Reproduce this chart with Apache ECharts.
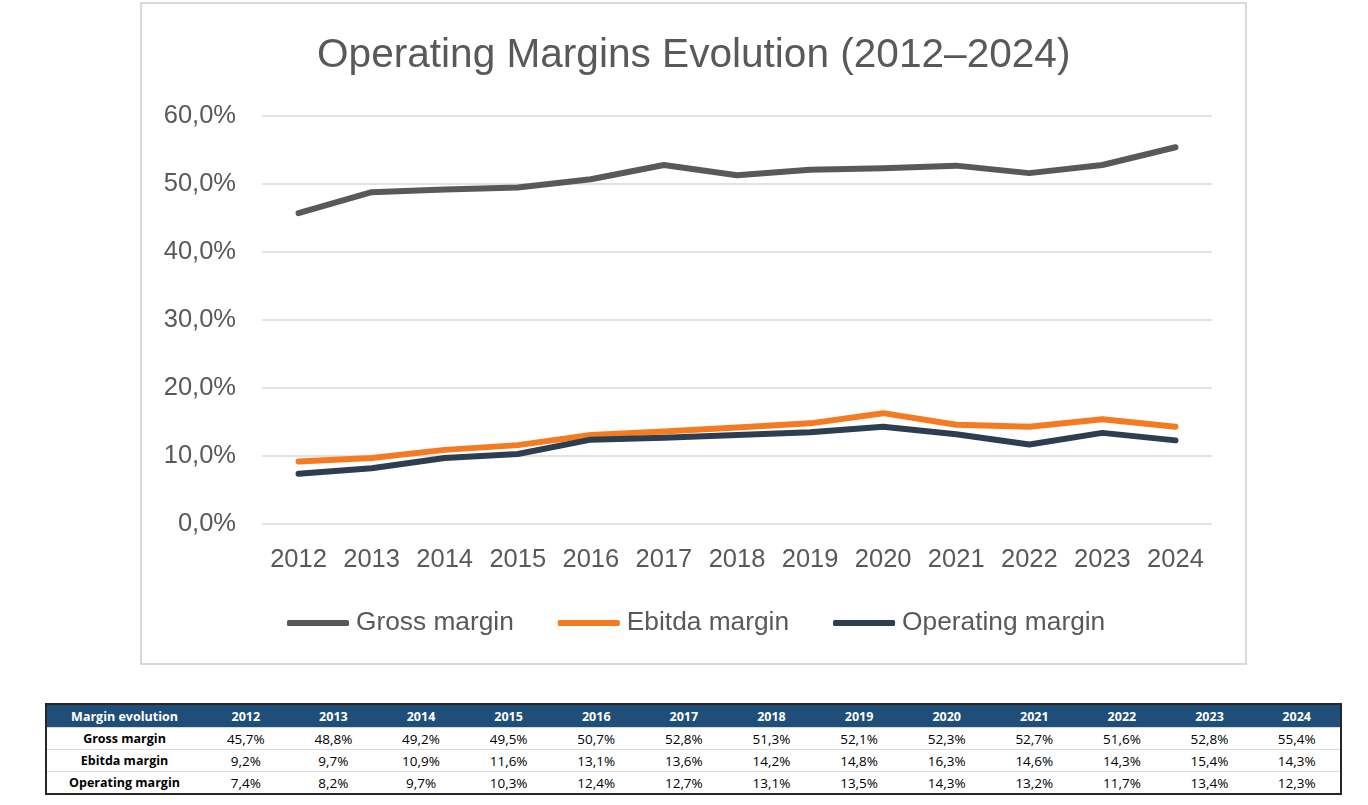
<!DOCTYPE html>
<html>
<head>
<meta charset="utf-8">
<script src="https://cdn.jsdelivr.net/npm/echarts@6/dist/echarts.min.js"></script>
<style>
  html, body { margin: 0; padding: 0; background: #fff; width: 1368px; height: 805px; overflow: hidden; }
  #chart { position: absolute; left: 0; top: 0; width: 1368px; height: 700px; }
  #tbl { position: absolute; left: 45px; top: 703px; width: 1297px; border-collapse: collapse; border: 2px solid #262626;
         font-family: "Open Sans", "Liberation Sans", sans-serif; font-size: 13.5px; color: #000; table-layout: fixed; }
  #tbl th { background: #1F4E79; color: #fff; font-weight: bold; font-size: 12.5px; height: 22px; padding: 0; text-align: center; }
  #tbl td { height: 21px; padding: 0; text-align: center; border-top: 1px solid #d9d9d9; }
  #tbl td.lab { font-weight: bold; font-size: 12.5px; }
</style>
</head>
<body>
<div id="chart"></div>
<table id="tbl"></table>
<script>
const categories = ['2012','2013','2014','2015','2016','2017','2018','2019','2020','2021','2022','2023','2024'];
const grossMargin = [45.7, 48.8, 49.2, 49.5, 50.7, 52.8, 51.3, 52.1, 52.3, 52.7, 51.6, 52.8, 55.4];
const ebitdaMargin = [9.2, 9.7, 10.9, 11.6, 13.1, 13.6, 14.2, 14.8, 16.3, 14.6, 14.3, 15.4, 14.3];
const operatingMargin = [7.4, 8.2, 9.7, 10.3, 12.4, 12.7, 13.1, 13.5, 14.3, 13.2, 11.7, 13.4, 12.3];
const seriesNames = ['Gross margin', 'Ebitda margin', 'Operating margin'];
const tableHeader = 'Margin evolution';

const fmt = v => v.toFixed(1).replace('.', ',') + '%';
const colors = ['#595959', '#F47B20', '#2C3E50'];
const font = '"Liberation Sans", Arial, sans-serif';

const chart = echarts.init(document.getElementById('chart'));
const dataSets = [grossMargin, ebitdaMargin, operatingMargin];
chart.setOption({
  animation: false,
  graphic: [{
    type: 'rect', shape: { x: 141, y: 3, width: 1105, height: 661 },
    style: { fill: 'none', stroke: '#d9d9d9', lineWidth: 2 }, silent: true
  }],
  title: {
    text: 'Operating Margins Evolution (2012–2024)',
    left: 312, top: 30,
    textStyle: { fontFamily: font, fontSize: 40.6, fontWeight: 'normal', color: '#595959' }
  },
  legend: {
    left: 282, top: 605,
    itemWidth: 62, itemHeight: 6, itemGap: 44,
    icon: 'roundRect',
    textStyle: { fontFamily: font, fontSize: 26.3, color: '#595959', padding: [0, 0, 0, 2] },
    data: seriesNames
  },
  grid: { left: 262, right: 156, top: 116, bottom: 176, containLabel: false },
  xAxis: {
    type: 'category', data: categories, boundaryGap: true,
    axisLine: { show: false }, axisTick: { show: false },
    axisLabel: { fontFamily: font, fontSize: 25.5, color: '#595959', margin: 23, interval: 0 }
  },
  yAxis: {
    type: 'value', min: 0, max: 60, interval: 10,
    axisLine: { show: false }, axisTick: { show: false },
    axisLabel: { fontFamily: font, fontSize: 25.5, color: '#595959', margin: 26, formatter: v => fmt(v) },
    splitLine: { lineStyle: { color: '#d9d9d9', width: 1.5 } }
  },
  series: dataSets.map((d, i) => ({
    name: seriesNames[i], type: 'line', data: d,
    showSymbol: false, symbol: 'none',
    lineStyle: { color: colors[i], width: 6, cap: 'round', join: 'round' },
    itemStyle: { color: colors[i] }
  }))
});

// table
const tbl = document.getElementById('tbl');
let html = '<colgroup><col style="width:156px">' + categories.map(() => '<col>').join('') + '</colgroup>';
html += '<tr><th>' + tableHeader + '</th>' + categories.map(c => '<th>' + c + '</th>').join('') + '</tr>';
dataSets.forEach((d, i) => {
  html += '<tr><td class="lab">' + seriesNames[i] + '</td>' + d.map(v => '<td>' + fmt(v) + '</td>').join('') + '</tr>';
});
tbl.innerHTML = html;
</script>
</body>
</html>
